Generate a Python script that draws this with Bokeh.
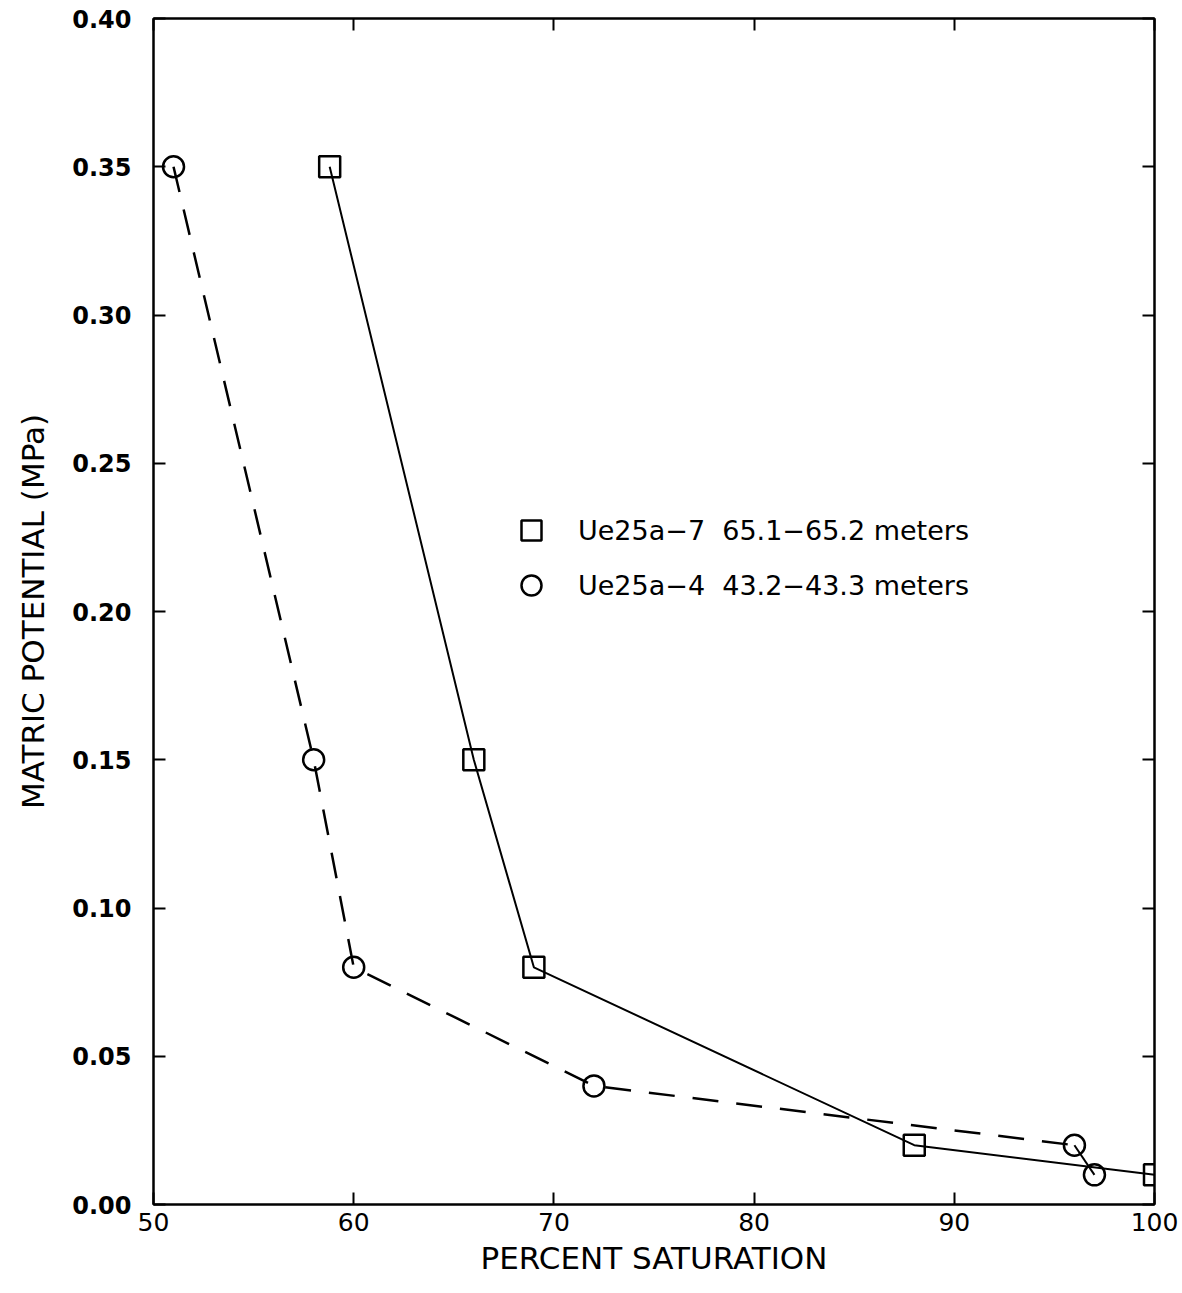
from bokeh.plotting import figure
from bokeh.models import (Range1d, LinearAxis, FixedTicker, NumeralTickFormatter,
                          Legend, LegendItem, CustomJSTickFormatter)
from bokeh.embed import file_html
from bokeh.resources import INLINE

# Data
sq_x = [58.8, 66, 69, 88, 100]
sq_y = [0.35, 0.15, 0.08, 0.02, 0.01]
ci_x = [51, 58, 60, 72, 96, 97]
ci_y = [0.35, 0.15, 0.08, 0.04, 0.02, 0.01]
x_ticks = [50, 60, 70, 80, 90, 100]
y_ticks = [0.0, 0.05, 0.10, 0.15, 0.20, 0.25, 0.30, 0.35, 0.40]
label_sq = "Ue25a\u22127  65.1\u221265.2 meters"
label_ci = "Ue25a\u22124  43.2\u221243.3 meters"

FONT = "DejaVu Sans"

p = figure(width=1182, height=1293, output_backend="svg", toolbar_location=None,
           x_range=Range1d(50, 100), y_range=Range1d(0, 0.40),
           min_border_left=153, min_border_right=28, min_border_top=18,
           min_border_bottom=89)
p.grid.visible = False
p.outline_line_color = "black"
p.outline_line_width = 2
p.background_fill_color = "white"
p.border_fill_color = "white"

# Lines
p.line(sq_x, sq_y, line_color="black", line_width=2)
p.line(ci_x[:5], ci_y[:5], line_color="black", line_width=2.5, line_dash="26 18")
p.line(ci_x[4:], ci_y[4:], line_color="black", line_width=2)

# Markers
r_sq = p.scatter(sq_x, sq_y, marker="square", size=21, line_color="black",
                 line_width=2.5, fill_alpha=0)
r_ci = p.scatter(ci_x, ci_y, marker="circle", size=21, line_color="black",
                 line_width=2.5, fill_alpha=0)

# Axes styling
for ax in [p.xaxis[0], p.yaxis[0]]:
    ax.axis_line_width = 2
    ax.major_tick_in = 12
    ax.major_tick_out = 0
    ax.major_tick_line_width = 2
    ax.minor_tick_line_color = None
    ax.major_label_text_font = FONT
    ax.major_label_text_font_size = "24px"
    ax.major_label_text_color = "black"
    ax.axis_label_text_font = FONT
    ax.axis_label_text_font_size = "31px"
    ax.axis_label_text_font_style = "normal"
    ax.axis_label_text_color = "black"

p.xaxis[0].ticker = FixedTicker(ticks=x_ticks)
p.yaxis[0].ticker = FixedTicker(ticks=y_ticks)
p.yaxis[0].formatter = NumeralTickFormatter(format="0.00")
p.yaxis[0].major_label_text_font_style = "bold"
p.xaxis[0].major_label_text_font_size = "25px"
p.xaxis[0].axis_label = "PERCENT SATURATION"
p.yaxis[0].axis_label = "MATRIC POTENTIAL (MPa)"
p.xaxis[0].major_label_standoff = 8
p.yaxis[0].major_label_standoff = 22
p.xaxis[0].axis_label_standoff = 6
p.yaxis[0].axis_label_standoff = 18

# Right and top axes with inward ticks only
blank = CustomJSTickFormatter(code="return ''")
ax_r = LinearAxis(ticker=FixedTicker(ticks=y_ticks), formatter=blank,
                  major_tick_in=12, major_tick_out=0, major_tick_line_width=2,
                  minor_tick_line_color=None, axis_line_width=2,
                  major_label_standoff=0)
ax_t = LinearAxis(ticker=FixedTicker(ticks=x_ticks), formatter=blank,
                  major_tick_in=12, major_tick_out=0, major_tick_line_width=2,
                  minor_tick_line_color=None, axis_line_width=2,
                  major_label_standoff=0)
p.add_layout(ax_r, "right")
p.add_layout(ax_t, "above")

# Legend (markers only)
legend = Legend(items=[LegendItem(label=label_sq, renderers=[r_sq]),
                       LegendItem(label=label_ci, renderers=[r_ci])],
                location=(347, 588), border_line_alpha=0, background_fill_alpha=0,
                label_text_font=FONT, label_text_font_size="27px",
                label_text_color="black", spacing=5, glyph_width=50,
                glyph_height=50, label_standoff=22, padding=6, margin=0)
p.add_layout(legend, "center")

open("out.html", "w").write(file_html(p, INLINE))
